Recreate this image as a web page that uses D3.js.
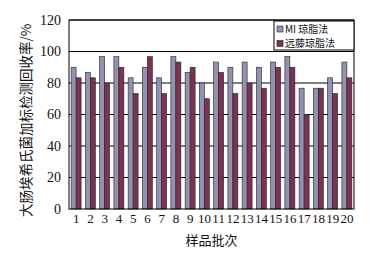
<!DOCTYPE html>
<html>
<head>
<meta charset="utf-8">
<script src="https://cdn.jsdelivr.net/npm/d3@7"></script>
<style>
  body{margin:0;background:#fff;}
  svg text{font-family:"Liberation Serif","Noto Sans CJK SC",serif;fill:#111;}
  .cjk{font-family:"Noto Sans CJK SC",sans-serif;}
</style>
</head>
<body>
<div id="chart"></div>
<script>
// 样品批次 / 两种方法的回收率
var batches = ["1","2","3","4","5","6","7","8","9","10","11","12","13","14","15","16","17","18","19","20"];
var seriesNames = ["MI 琼脂法","远藤琼脂法"];
var miVals   = [90,86.7,96.7,96.7,83.3,90,83.3,96.7,86.7,80,93.3,90,93.3,90,93.3,96.7,76.7,76.7,83.3,93.3];
var endoVals = [83.3,83.3,80,90,73.3,96.7,73.3,93.3,90,70,86.7,73.3,80,76.7,90,90,60,76.7,73.3,83.3];
var yTicks = [0,20,40,60,80,100,120];
var colors = ["#9292b0","#7a3352"];

var W = 383, H = 262;
var margin = {left:69, right:29, top:20, bottom:53};
var svg = d3.select("#chart").append("svg").attr("width",W).attr("height",H);
var g = svg.append("g").attr("transform","translate("+margin.left+","+margin.top+")");
var w = W - margin.left - margin.right, h = H - margin.top - margin.bottom;

var x = d3.scaleBand().domain(batches).range([0,w]).paddingInner(0.3).paddingOuter(0.15);
var x1 = d3.scaleBand().domain([0,1]).range([0,x.bandwidth()]);
var y = d3.scaleLinear().domain([0,120]).range([h,0]);

// grid
g.selectAll(".grid").data(yTicks.slice(1)).enter().append("line")
  .attr("x1",0).attr("x2",w).attr("y1",function(d){return y(d);}).attr("y2",function(d){return y(d);})
  .attr("stroke","#000").attr("stroke-width",1);

var rows = batches.map(function(b,i){return {b:b, v:[miVals[i],endoVals[i]]};});
var grp = g.selectAll(".grp").data(rows).enter().append("g")
  .attr("transform",function(d){return "translate("+x(d.b)+",0)";});
grp.selectAll("rect").data(function(d){return d.v;}).enter().append("rect")
  .attr("x",function(d,i){return x1(i);})
  .attr("y",function(d){return y(d);})
  .attr("width",x1.bandwidth())
  .attr("height",function(d){return h - y(d);})
  .attr("fill",function(d,i){return colors[i];})
  .attr("stroke","#222").attr("stroke-width",0.6);

// frame
g.append("rect").attr("x",0).attr("y",0).attr("width",w).attr("height",h)
  .attr("fill","none").attr("stroke","#000").attr("stroke-width",1);

// y axis
var ya = g.append("g").call(d3.axisLeft(y).tickValues(yTicks).tickSize(0).tickPadding(8));
ya.select(".domain").remove();
ya.selectAll("text").style("font-size","14px").attr("fill","#111");

// x axis
var xa = g.append("g").attr("transform","translate(0,"+h+")")
  .call(d3.axisBottom(x).tickSize(0).tickPadding(5));
xa.select(".domain").remove();
xa.selectAll("text").style("font-size","13px").attr("fill","#111");

svg.append("text").attr("class","cjk").attr("x",margin.left + w/2).attr("y",H-17)
  .attr("text-anchor","middle").style("font-size","13px").text("样品批次");
svg.append("text").attr("class","cjk")
  .attr("transform","translate(31,"+(margin.top + h/2 + 6)+") rotate(-90)")
  .attr("text-anchor","middle").style("font-size","13.5px").text("大肠埃希氏菌加标检测回收率/%");

// legend
var lg = g.append("g").attr("transform","translate("+(w-80)+",1)");
lg.append("rect").attr("width",80).attr("height",29).attr("fill","#fff").attr("stroke","#000");
seriesNames.forEach(function(n,i){
  lg.append("rect").attr("x",3).attr("y",5+i*14.5).attr("width",6).attr("height",6)
    .attr("fill",colors[i]).attr("stroke","#222").attr("stroke-width",0.6);
  lg.append("text").attr("class","cjk").attr("x",11).attr("y",11.5+i*14.5)
    .style("font-size","10px").text(n);
});
</script>
</body>
</html>
